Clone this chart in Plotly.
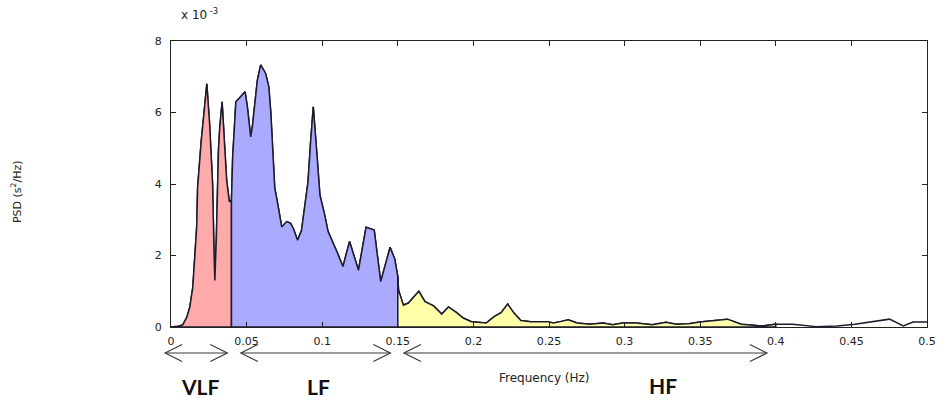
import plotly.graph_objects as go

# Frequency (Hz) and PSD (x 10^-3 s^2/Hz)
freq_hz = [
    0.000, 0.003, 0.0046, 0.0078, 0.0105, 0.0124, 0.0144, 0.0170, 0.0176, 0.0200,
    0.0222, 0.0237, 0.0255, 0.0266, 0.0275, 0.0285, 0.0290, 0.0300, 0.0314, 0.0323,
    0.0338, 0.0353, 0.0368, 0.0386, 0.0400,
    0.0408, 0.0429, 0.0451, 0.0490, 0.0505, 0.0527, 0.0538, 0.0556, 0.0571, 0.0593,
    0.0625, 0.0647, 0.0660, 0.0673, 0.0686, 0.0712, 0.0732, 0.0765, 0.0791, 0.0810,
    0.0837, 0.0863, 0.0882, 0.0906, 0.0922, 0.0941, 0.0962, 0.0978, 0.0985, 0.1013,
    0.1039, 0.1098, 0.1137, 0.1181, 0.1240, 0.1290, 0.1344, 0.1387, 0.1449, 0.1480,
    0.1500,
    0.1505, 0.1537, 0.1570, 0.1639, 0.1680, 0.1737, 0.1791, 0.1835, 0.1889, 0.1933,
    0.1987, 0.2063, 0.2085, 0.2137, 0.2183, 0.2227, 0.2268, 0.2314, 0.2379, 0.2490,
    0.2529, 0.2575, 0.2627, 0.2686, 0.2771, 0.2856, 0.2922, 0.2987, 0.3078, 0.3183,
    0.3275, 0.3340, 0.3425, 0.3497, 0.3680, 0.3771, 0.3908, 0.4000,
    0.4111, 0.4268, 0.4405, 0.4523, 0.4752, 0.4843, 0.4908, 0.5000,
]
psd_e3 = [
    0.00, 0.00, 0.02, 0.06, 0.28, 0.55, 1.10, 2.80, 3.90, 5.20,
    6.16, 6.80, 5.70, 4.80, 4.00, 2.00, 1.30, 2.50, 4.95, 5.60,
    6.30, 5.20, 4.10, 3.50, 3.55,
    4.76, 6.30, 6.40, 6.58, 6.16, 5.32, 5.60, 6.35, 6.90, 7.33,
    7.10, 6.72, 6.00, 4.95, 3.90, 3.30, 2.80, 2.95, 2.90, 2.75,
    2.43, 2.70, 3.30, 4.05, 5.10, 6.16, 5.00, 4.00, 3.69, 3.20,
    2.67, 2.10, 1.69, 2.39, 1.59, 2.79, 2.71, 1.27, 2.23, 1.90,
    1.41,
    1.03, 0.61, 0.67, 1.00, 0.71, 0.59, 0.36, 0.56, 0.40, 0.25,
    0.15, 0.11, 0.11, 0.29, 0.40, 0.64, 0.39, 0.18, 0.15, 0.15,
    0.11, 0.15, 0.20, 0.11, 0.08, 0.11, 0.06, 0.11, 0.11, 0.06,
    0.13, 0.08, 0.09, 0.14, 0.22, 0.08, 0.03, 0.08,
    0.08, 0.01, 0.03, 0.08, 0.22, 0.03, 0.14, 0.14,
]

band_names = ["VLF", "LF", "HF"]
band_edges = [(0.0, 0.04), (0.04, 0.15), (0.15, 0.40)]
band_colors = ["#FFAAAA", "#AAAAFF", "#FFFFAA"]
x_ticks = [0, 0.05, 0.1, 0.15, 0.2, 0.25, 0.3, 0.35, 0.4, 0.45, 0.5]
x_tick_labels = ["0", "0.05", "0.1", "0.15", "0.2", "0.25", "0.3", "0.35", "0.4", "0.45", "0.5"]
y_ticks = [0, 2, 4, 6, 8]

LINE = "#1c1c2c"
ARROW = "#3a3a3a"
TXT = "#222222"
FONT = "DejaVu Sans"
fig = go.Figure()

# full curve (line only)
fig.add_trace(go.Scatter(x=freq_hz, y=psd_e3, mode="lines",
                         line=dict(color=LINE, width=1.5), hoverinfo="skip"))

# band patches
for (lo, hi), col in zip(band_edges, band_colors):
    bx = [f for f in freq_hz if lo <= f <= hi]
    by = [p for f, p in zip(freq_hz, psd_e3) if lo <= f <= hi]
    px = [lo] + bx + [hi, lo]
    py = [0] + by + [0, 0]
    fig.add_trace(go.Scatter(x=px, y=py, mode="lines", fill="toself",
                             fillcolor=col, line=dict(color=LINE, width=1.5),
                             hoverinfo="skip"))

# double-headed arrows below the axis (paper x of the two tips)
arrow_tips = [(-0.0078, 0.0745), (0.0924, 0.2902), (0.3081, 0.7882)]
ARROW_Y = -0.091
for xa, xb in arrow_tips:
    fig.add_shape(type="line", xref="paper", yref="paper", x0=xa, x1=xb,
                  y0=ARROW_Y, y1=ARROW_Y, line=dict(color=ARROW, width=1.1))
    fig.add_shape(type="path", xref="paper", yref="paper", xsizemode="pixel",
                  ysizemode="pixel", xanchor=xa, yanchor=ARROW_Y,
                  path="M 17,8.5 L 0,0 L 17,-8.5", line=dict(color=ARROW, width=1.2))
    fig.add_shape(type="path", xref="paper", yref="paper", xsizemode="pixel",
                  ysizemode="pixel", xanchor=xb, yanchor=ARROW_Y,
                  path="M -17,8.5 L 0,0 L -17,-8.5", line=dict(color=ARROW, width=1.2))

# band labels
label_x = [0.0379, 0.1948, 0.6510]
label_y = [-0.2587, -0.2587, -0.2550]
for name, lx, ly in zip(band_names, label_x, label_y):
    fig.add_annotation(x=lx, y=ly, xref="paper", yref="paper", xanchor="center",
                       yanchor="bottom", text=f"<b>{name}</b>", showarrow=False,
                       font=dict(family="Lato", size=21, color="#111111"))

fig.add_annotation(x=0.4941, y=-0.178, xref="paper", yref="paper", xanchor="center",
                   yanchor="middle", text="Frequency (Hz)", showarrow=False,
                   font=dict(family=FONT, size=12, color=TXT))

fig.add_annotation(xref="paper", yref="paper", x=-0.205, y=0.472, xanchor="center",
                   yanchor="middle", text="PSD (s<sup>2</sup>/Hz)", textangle=-90,
                   showarrow=False, font=dict(family=FONT, size=11, color=TXT))

fig.add_annotation(xref="paper", yref="paper", x=0.011, y=1.06, xanchor="left",
                   yanchor="bottom", text="x 10<sup> -3</sup>", showarrow=False,
                   font=dict(family=FONT, size=12, color=TXT))

axis_common = dict(showline=True, linecolor="#222222", linewidth=1.2, mirror="ticks",
                   ticks="inside", ticklen=5, tickcolor="#222222", showgrid=False,
                   zeroline=False, tickfont=dict(family=FONT, size=11, color=TXT))

fig.update_xaxes(range=[0, 0.5], tickvals=x_ticks, ticktext=x_tick_labels,
                 ticklabelstandoff=4, **axis_common)
fig.update_yaxes(range=[0, 8], tickvals=y_ticks, ticklabelstandoff=6, **axis_common)

fig.update_layout(width=946, height=402, margin=dict(l=171, r=10, t=41, b=75),
                  plot_bgcolor="white", paper_bgcolor="white", showlegend=False)

fig.write_html("out.html", config={"displayModeBar": False},
               post_script="document.body.style.margin='0px';")
